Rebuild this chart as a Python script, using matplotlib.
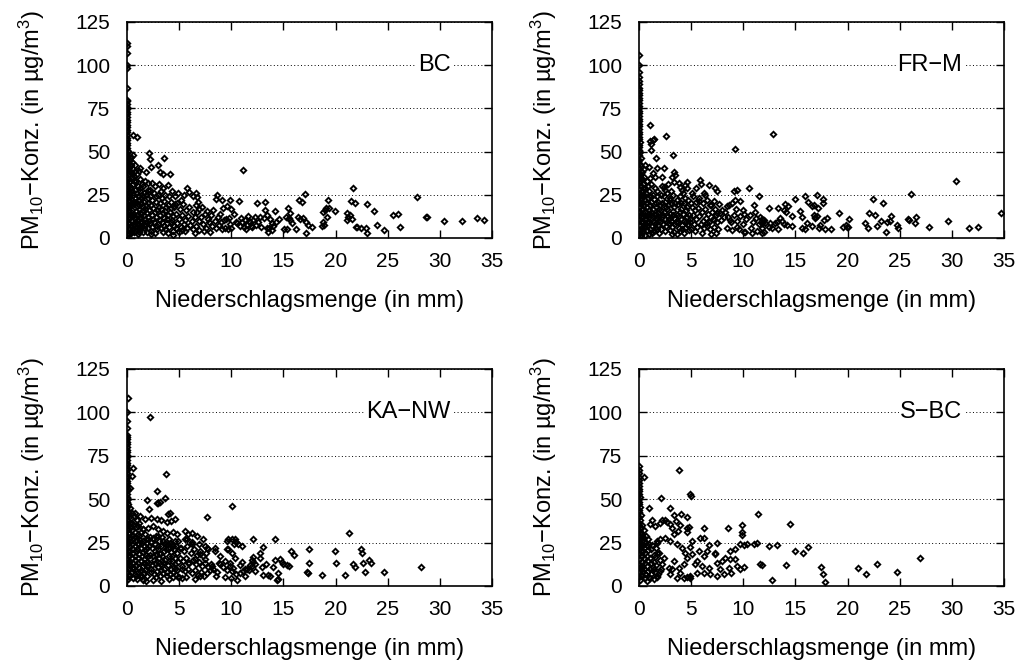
import matplotlib
matplotlib.use('Agg')
import matplotlib.pyplot as plt

plt.rcParams['font.family'] = ['Liberation Sans', 'DejaVu Sans']
plt.rcParams['mathtext.fontset'] = 'custom'
plt.rcParams['mathtext.rm'] = 'Liberation Sans'
plt.rcParams['mathtext.it'] = 'Liberation Sans:italic'
plt.rcParams['mathtext.default'] = 'regular'

#---station names---
stations = ['BC', 'FR\u2212M', 'KA\u2212NW', 'S\u2212BC']

x_ticks = [0, 5, 10, 15, 20, 25, 30, 35]
y_ticks = [0, 25, 50, 75, 100, 125]

#---BC: (Niederschlag mm, PM10 ug/m3)---
bc_pts = [
    (0, 113), (0, 111), (0, 107), (0, 100), (0, 98.5), (0, 87), (0.05, 80), (0, 79), (0, 77.5), (0.05, 76),
    (0, 74.5), (0, 73), (0.05, 71.5), (0, 70), (0, 68.5), (0.05, 67), (0, 65.5), (0, 64), (0.05, 62.5), (0, 61),
    (0, 59.5), (0.05, 58), (0, 56.5), (0, 55), (0.05, 53.5), (0, 52), (0.1, 50.5), (0, 49), (0.05, 47.5), (0.1, 46),
    (0, 44.5), (0.15, 43), (0, 41.5), (0.1, 40), (0.05, 38.5), (0.2, 37), (0, 35.5), (0.1, 34), (0.2, 32.5), (0, 31),
    (0.15, 29.5), (0.05, 28), (0.25, 26.5), (0, 25), (0.1, 23.5), (0.2, 22), (0, 20.5), (0.15, 19), (0.05, 17.5),
    (0.25, 16), (0, 14.5), (0.1, 13), (0.2, 11.5), (0, 10), (0.15, 8.5), (0.05, 7), (0.25, 5.5), (0, 4), (0.1, 3), (0.2, 2.5),
    (0.3, 45), (0.4, 42), (0.5, 44), (0.35, 38), (0.6, 40), (0.8, 39), (0.45, 35), (0.7, 36), (1.0, 37), (1.2, 39),
    (0.3, 33), (0.55, 31), (0.9, 33), (1.3, 34), (0.4, 29), (0.75, 28), (1.1, 30), (1.45, 31), (0.3, 26), (0.6, 25),
    (0.95, 26), (1.25, 27), (0.45, 22), (0.8, 23), (1.15, 22), (1.5, 24), (0.35, 19), (0.65, 19.5), (1.0, 18.5),
    (1.35, 20), (0.5, 16), (0.85, 15.5), (1.2, 16.5), (0.3, 13), (0.6, 12.5), (0.95, 13.5), (1.3, 12), (0.45, 10),
    (0.8, 9.5), (1.1, 10.5), (1.45, 9), (0.35, 7), (0.7, 7.5), (1.0, 6.5), (1.3, 7), (0.5, 4.5), (0.85, 4), (1.2, 5),
    (0.4, 3), (1.5, 3.5), (1.4, 14), (1.5, 18), (0.55, 48), (0.61, 59.6), (1.02, 58.1),
    (0.2, 41), (0.35, 47), (0.25, 39), (0.5, 37), (0.65, 33), (0.25, 30), (0.5, 27), (0.2, 24), (0.7, 21),
    (0.25, 18), (0.55, 14), (0.2, 12), (0.75, 11), (0.25, 8.5), (0.55, 6), (0.2, 5), (0.7, 3.5), (1.05, 2.5),
    (0.9, 21), (1.05, 24), (1.2, 19), (1.3, 29), (1.4, 23), (1.1, 14), (1.25, 9), (1.4, 11.5), (0.95, 8),
    (1.15, 3.5), (1.35, 5.5), (1.55, 16), (1.6, 26), (1.7, 11), (1.75, 7.5), (1.85, 19), (1.9, 14.5), (2.0, 23),
    (2.1, 10), (2.3, 4), (2.2, 28), (2.35, 19), (2.55, 11), (2.65, 15), (2.75, 24), (2.9, 7), (3.05, 18),
    (3.15, 10.5), (3.4, 23), (3.45, 14.5), (3.55, 7), (3.75, 18), (3.85, 11), (3.9, 3), (4.05, 24), (4.2, 17.5),
    (4.35, 10.5), (4.6, 19.5),
    (2.1, 49.4), (2.2, 45.6), (3.58, 46.1), (2.94, 42.3), (3.16, 38.4), (3.48, 37.1), (4.1, 36.7), (2.3, 41.3),
    (1.79, 38.4), (1.25, 40.7), (0.77, 42.1), (3.96, 30.7), (3.48, 28.8), (3.64, 24.9), (2.04, 31.7), (1.98, 27.8),
    (1.57, 29.8), (1.7, 33), (2.4, 32), (2.7, 30), (3.1, 31), (1.8, 25), (2.2, 24), (2.6, 26), (3.0, 25), (3.3, 27),
    (1.6, 21), (2.0, 20), (2.4, 22), (2.8, 21), (3.2, 20), (3.6, 21.5), (3.9, 19), (1.7, 17), (2.1, 16), (2.5, 17.5),
    (2.9, 16), (3.3, 17), (3.7, 15.5), (1.6, 13), (2.0, 12), (2.4, 13.5), (2.8, 12), (3.2, 13), (3.6, 11.5),
    (3.95, 13), (1.8, 9), (2.2, 8.5), (2.6, 9.5), (3.0, 8), (3.4, 9), (3.8, 8.5), (1.65, 6), (2.05, 5.5), (2.45, 6.5),
    (2.85, 5), (3.25, 6), (3.65, 5), (4.0, 6.5), (1.9, 3.5), (2.7, 3), (3.5, 3.5), (2.3, 2.5),
    (4.3, 27), (4.6, 24), (4.9, 26), (5.2, 22), (5.5, 25), (5.8, 29), (6.0, 26.5), (6.3, 24), (6.6, 26), (6.7, 23.5),
    (6.8, 21), (6.65, 19), (6.9, 17), (6.75, 15), (4.2, 21), (4.5, 18), (4.8, 20), (5.1, 17), (5.4, 19.5), (5.7, 16),
    (6.0, 18), (6.3, 15), (4.1, 15), (4.4, 12.5), (4.7, 14), (5.0, 11), (5.3, 13), (5.6, 10.5), (5.9, 12.5),
    (6.2, 10), (6.5, 12), (4.25, 9), (4.55, 7), (4.85, 8.5), (5.15, 6.5), (5.45, 8), (5.75, 5.5), (6.05, 7.5),
    (6.35, 5), (6.65, 7), (6.95, 4.5), (4.4, 4), (5.0, 3.5), (5.6, 4), (4.4, 1.5), (4.7, 5.5), (5.3, 4.8), (6.9, 10),
    (6.5, 3), (7.2, 18), (7.5, 14), (7.8, 11), (8.1, 13.5), (8.4, 10), (8.7, 12), (9.0, 9), (7.3, 8), (7.6, 6),
    (7.9, 9), (8.2, 7), (8.5, 5.5), (8.8, 7.5), (9.1, 5), (9.4, 6), (9.7, 5), (7.4, 4), (8.0, 3.5), (8.53, 22.6),
    (8.6, 24.9), (9.08, 22), (9.9, 22), (9.6, 18.5), (9.2, 17.5), (8.9, 14), (9.5, 11), (9.8, 11.5), (10.0, 17),
    (7.1, 12), (7.7, 15.5), (8.3, 16), (9.3, 10.5), (10.0, 5.5), (9.85, 8), (10.7, 21.3), (10.3, 14), (10.5, 9),
    (10.8, 7), (11.0, 9.5), (11.3, 10.5), (11.5, 7.5), (11.1, 39.2), (11.7, 10), (11.9, 7), (11.4, 5), (10.9, 11.5),
    (11.6, 12.5), (10.6, 8.5), (11.2, 6.5), (11.8, 9),
    (12.43, 20.1), (13.23, 21.0), (17.07, 25.5), (16.5, 22), (16.75, 20.6), (19.24, 22), (19.1, 17.2), (19.4, 17.2),
    (19.0, 16.2), (19.2, 12), (18.8, 15.2), (19.95, 15.6), (21.7, 29.1), (21.5, 21.4), (21.9, 20.4), (23.0, 19.7),
    (21.1, 14.7), (21.4, 13.3), (21.2, 12), (21.1, 10.4), (21.6, 10.8), (21.96, 6.2), (22.1, 6.2), (22.4, 6),
    (22.9, 6), (23.0, 2.9), (23.7, 15.4), (24.0, 7.3), (24.6, 4.6), (25.5, 13.1), (26.0, 14.1), (26.2, 6.6),
    (27.8, 23.9), (28.67, 12.3), (28.8, 12), (30.4, 10), (32.1, 9.6), (33.6, 11.8), (34.2, 10.2), (17.71, 6.4),
    (17.2, 2.7), (16.2, 5.2), (15.1, 5.2), (15.3, 5), (15.4, 17.4), (15.25, 12.3), (15.5, 11.4), (15.6, 10.4),
    (15.8, 8.5), (16.4, 12), (16.6, 10.8), (16.9, 11.4), (17.2, 9.4), (17.4, 7.5), (15.6, 14.3), (14.2, 15.6),
    (14.3, 9.5), (14.6, 10.8), (13.7, 10.8), (13.9, 8.5), (14.0, 6.9), (13.65, 5.6), (13.9, 4.6), (13.2, 16.2),
    (13.4, 13.3), (13.1, 11.4), (12.8, 12.3), (12.6, 9.4), (12.3, 12.3), (12.1, 10.4), (11.95, 6.6), (12.4, 7.5),
    (12.9, 6.6), (18.7, 7), (18.9, 7.5), (18.8, 9.5), (13.4, 5.6), (13.55, 3.7),
]

#---FR-M---
frm_pts = [
    (0, 106), (0, 100), (0, 96), (0.05, 93), (0, 91), (0, 89), (0.05, 87), (0, 85.5), (0, 84), (0.05, 82.5),
    (0, 81), (0, 79.5), (0.05, 78), (0, 76.5), (0, 75), (0.05, 73.5), (0, 72), (0, 70.5), (0.05, 69), (0, 67.5),
    (0, 66), (0.05, 64.5), (0, 63), (0, 61.5), (0.05, 60), (0, 58.5), (0, 57), (0.1, 55.5), (0, 54), (0.05, 52.5),
    (0, 51), (0.1, 49.5), (0, 48), (0.15, 46.5), (0, 45), (0.05, 43.5), (0.1, 42), (0, 40.5), (0.2, 39), (0.05, 37.5),
    (0, 36), (0.15, 34.5), (0.1, 33), (0, 31.5), (0.2, 30), (0.05, 28.5), (0.25, 27), (0, 25.5), (0.1, 24),
    (0.2, 22.5), (0, 21), (0.15, 19.5), (0.05, 18), (0.25, 16.5), (0, 15), (0.1, 13.5), (0.2, 12), (0, 10.5),
    (0.15, 9), (0.05, 7.5), (0.25, 6), (0, 4.5), (0.1, 3), (0.2, 2),
    (0.3, 38), (0.5, 35), (0.8, 33), (0.35, 31), (0.6, 29), (0.9, 30), (1.2, 31), (1.5, 29), (0.4, 27), (0.7, 26),
    (1.0, 27), (1.3, 25), (1.7, 27), (0.3, 24), (0.55, 22), (0.85, 23), (1.15, 21), (1.45, 22.5), (1.8, 21),
    (0.45, 19), (0.75, 18), (1.05, 19), (1.35, 17), (1.65, 18), (1.95, 17), (0.3, 16), (0.6, 15), (0.9, 14),
    (1.2, 15), (1.5, 13.5), (1.85, 14.5), (0.4, 12), (0.7, 11), (1.0, 12), (1.3, 10), (1.6, 11.5), (1.9, 10.5),
    (0.35, 9), (0.65, 8), (0.95, 9), (1.25, 7), (1.55, 8), (1.85, 7.5), (0.5, 5.5), (0.8, 4.5), (1.1, 5), (1.4, 4),
    (1.7, 5), (0.3, 3), (1.0, 2.5), (1.9, 3), (0.6, 42), (0.45, 40),
    (0.25, 34), (0.4, 29), (0.5, 25), (0.25, 21), (0.4, 17), (0.7, 20), (0.95, 16), (1.1, 24), (0.55, 13),
    (0.8, 12.5), (0.25, 10), (0.55, 6.5), (0.75, 9.5), (1.15, 13), (1.4, 9), (1.25, 3), (1.6, 20), (1.75, 24),
    (1.65, 14), (1.8, 12), (0.6, 2), (1.55, 6), (2.0, 19), (2.05, 9), (2.35, 13.5), (2.6, 18), (2.65, 9.5),
    (2.95, 22), (2.9, 11), (3.25, 13), (3.2, 2.5), (3.5, 20.5), (3.55, 9), (3.85, 12.5), (4.05, 20), (4.15, 5),
    (4.4, 23), (4.55, 9), (4.65, 18), (4.9, 11), (5.0, 20),
    (1.02, 65.4), (2.62, 58.7), (1.02, 55.8), (1.34, 56.8), (1.47, 57.1), (1.15, 54.4), (1.15, 50.9), (3.26, 48.1),
    (1.66, 46.1), (9.24, 51.4), (0.93, 41.3), (1.73, 40.7), (2.43, 40.4), (1.34, 37.5), (1.57, 35.5), (1.09, 34.6),
    (2.2, 35.2), (3.32, 38.4), (3.16, 35.5), (3.48, 36.5), (2.36, 29.75), (3.32, 32.6), (3.8, 31.7), (4.6, 32.6),
    (4.44, 30.7), (4.6, 28.8), (3.9, 29.75), (4.12, 27.8), (5.88, 33.6), (6.68, 30.7), (5.5, 28.8), (5.08, 25.9),
    (7.32, 28.8), (7.48, 26.9), (5.72, 21.1), (6.36, 24.9), (6.78, 19.1), (7.22, 21.1),
    (9.08, 26.9), (9.4, 27.8), (9.24, 22.0), (8.92, 20.1), (9.72, 21.1), (10.5, 28.8), (9.97, 16.2), (11.0, 19.1),
    (11.47, 24.0), (11.15, 15.3), (11.63, 12.4), (11.95, 10.5), (11.79, 8.5), (10.83, 2.7), (10.04, 3.7), (9.4, 6.6),
    (8.76, 10.5), (8.12, 12.4), (7.96, 16.2), (8.44, 18.2), (7.48, 14.3), (7.16, 10.5), (6.52, 8.5),
    (2.2, 30), (2.5, 28), (2.8, 31), (3.1, 27), (2.1, 25), (2.4, 24), (2.7, 26), (3.0, 23), (3.3, 25), (3.6, 22),
    (3.9, 24), (4.2, 26), (2.2, 20), (2.5, 21), (2.8, 19), (3.1, 20.5), (3.4, 18), (3.7, 19.5), (4.0, 17), (4.3, 20),
    (4.7, 22), (2.1, 16), (2.4, 15), (2.7, 16.5), (3.0, 14), (3.3, 15.5), (3.6, 13), (3.9, 15), (4.2, 14), (4.5, 16),
    (4.8, 13), (2.2, 12), (2.5, 11), (2.8, 12.5), (3.1, 10), (3.4, 11.5), (3.7, 9.5), (4.0, 11), (4.3, 10), (4.6, 12),
    (4.9, 9.5), (2.3, 8), (2.6, 7), (2.9, 8.5), (3.2, 6.5), (3.5, 8), (3.8, 6), (4.1, 7.5), (4.4, 6), (4.7, 8),
    (2.1, 5), (2.5, 4), (3.0, 4.5), (3.4, 3.5), (3.9, 4), (4.3, 3), (4.8, 4.5), (3.6, 2.5),
    (5.2, 24), (5.5, 21), (5.8, 23), (6.1, 20), (6.5, 22), (6.9, 19), (7.3, 17), (5.1, 18), (5.4, 16), (5.7, 17.5),
    (6.0, 15), (6.3, 16.5), (6.6, 14), (7.0, 15), (7.4, 13), (7.8, 14.5), (5.2, 13), (5.5, 11), (5.8, 12.5),
    (6.1, 10), (6.4, 11.5), (6.7, 9.5), (7.1, 11), (7.5, 9), (7.9, 10.5), (5.3, 8), (5.6, 6.5), (5.9, 8), (6.2, 5.5),
    (6.5, 7), (6.8, 5), (7.2, 6.5), (7.6, 5), (5.4, 4), (6.0, 3), (6.9, 2.5), (7.4, 3), (5.0, 5), (7.7, 19.5),
    (6.2, 26), (5.9, 31),
    (8.2, 15), (8.5, 12), (8.8, 9), (9.1, 13), (9.4, 10), (9.7, 12.5), (10.0, 8), (10.3, 11), (10.6, 13.5),
    (10.9, 9), (11.2, 11.5), (11.5, 8), (8.4, 6), (8.9, 4.5), (9.6, 5), (10.2, 3.5), (10.7, 6), (11.3, 4), (11.8, 3),
    (9.3, 17), (10.1, 14), (8.6, 19),
    (12.85, 60.2), (30.4, 33.2), (26.1, 25.5), (34.7, 14.5), (12.43, 17.2), (13.33, 17.2), (13.97, 19.7),
    (14.29, 18.5), (13.87, 16.2), (14.1, 15.2), (15.0, 22.4), (15.9, 24.1), (16.2, 20.6), (16.6, 18.5),
    (16.8, 18.9), (17.07, 25.1), (17.2, 17.4), (17.64, 22.4), (17.64, 20.1), (15.47, 15.8), (14.67, 12.7),
    (15.63, 12.3), (16.75, 13.3), (16.9, 12.3), (17.07, 12.7), (16.9, 11.4), (17.7, 10.4), (18.0, 11.8),
    (19.2, 14.3), (20.1, 11), (11.79, 11.0), (11.79, 8.5), (11.79, 5.6), (11.95, 3.7), (12.11, 8.9), (12.59, 8.5),
    (12.43, 6.6), (12.75, 6.0), (13.23, 9.5), (13.07, 8.5), (13.33, 5.2), (13.55, 11.4), (13.71, 10.0),
    (13.87, 8.1), (14.19, 7.5), (14.67, 7.1), (15.63, 6.0), (15.95, 5.0), (16.1, 8.5), (16.6, 7.1), (17.3, 6.0),
    (17.39, 7.5), (17.87, 5.0), (18.44, 5.0), (19.6, 6.6), (19.95, 6.6), (19.8, 7.5), (20.04, 6.2), (21.7, 8.9),
    (21.96, 5.6), (22.02, 14.3), (22.44, 22.4), (22.66, 13.3), (22.82, 7.0), (23.2, 10.0), (23.36, 20.4),
    (23.68, 3.7), (23.78, 9.5), (24.1, 10.0), (24.2, 12.9), (24.74, 7.5), (24.83, 5.6), (25.79, 10.8),
    (25.92, 10.4), (26.43, 8.9), (26.56, 12.0), (27.77, 6.2), (29.6, 10.0), (31.6, 5.6), (32.5, 6.4),
]

#---KA-NW---
kanw_pts = [
    (0.1, 108), (0, 100), (0, 95), (0, 91), (0, 87), (0.05, 86), (0, 84.5), (0, 83), (0.05, 81.5), (0, 80),
    (0, 78.5), (0.05, 77), (0, 75.5), (0, 74), (0.05, 72.5), (0, 71), (0, 69.5), (0.05, 68), (0, 66.5), (0, 65),
    (0.05, 63.5), (0, 62), (0, 60.5), (0.05, 59), (0, 57.5), (0.1, 56), (0, 54.5), (0.05, 53), (0, 51.5),
    (0.1, 50), (0, 48.5), (0.15, 47), (0, 45.5), (0.05, 44), (0.1, 42.5), (0, 41), (0.2, 39.5), (0.05, 38),
    (0, 36.5), (0.15, 35), (0.1, 33.5), (0, 32), (0.2, 30.5), (0.05, 29), (0.25, 27.5), (0, 26), (0.1, 24.5),
    (0.2, 23), (0, 21.5), (0.15, 20), (0.05, 18.5), (0.25, 17), (0, 15.5), (0.1, 14), (0.2, 12.5), (0, 11),
    (0.15, 9.5), (0.05, 8), (0.25, 6.5), (0, 5), (0.1, 4),
    (2.2, 97), (0.61, 68.1), (0.51, 63.4), (0.29, 56.6), (3.71, 64.3), (2.85, 54.7), (3.64, 50.9), (3.0, 48),
    (2.85, 47.6), (3.16, 48.4), (1.89, 49.5), (2.11, 44.5), (10.1, 46.1), (7.64, 39.7), (4.12, 42.2), (3.96, 41.3),
    (4.22, 37.4), (3.8, 36.8), (4.6, 38.8),
    (0.77, 42.2), (1.25, 40.3), (1.73, 38.4), (2.36, 39.3), (2.85, 38.4), (3.32, 38.0), (0.45, 36.5), (1.09, 34.5),
    (1.57, 32.6), (2.04, 33.6), (2.52, 34.5), (3.0, 32.6), (3.48, 31.7), (3.8, 30.7), (3.0, 28.8), (2.52, 27.8),
    (2.04, 26.9), (1.57, 25.9), (1.09, 25.0), (5.56, 31.7), (5.88, 29.7), (6.2, 30.7), (6.68, 28.8), (5.56, 26.9),
    (4.92, 25.9), (4.44, 23.0), (3.96, 24.0), (5.08, 22.1), (6.2, 24.0), (7.32, 26.9), (7.48, 23.0), (7.8, 21.1),
    (8.44, 22.1), (7.0, 18.2), (6.52, 15.3), (5.88, 13.4), (5.24, 11.5), (4.6, 9.6), (7.48, 15.3), (8.12, 11.5),
    (8.92, 12.4), (9.4, 14.4), (9.72, 26.9), (10.35, 26.9), (9.56, 21.1), (10.04, 19.2), (10.67, 24.0),
    (10.99, 23.0), (10.35, 16.3), (9.88, 11.5), (10.04, 8.6), (10.83, 7.7), (11.31, 9.6), (11.95, 11.5),
    (12.11, 26.9),
    (0.3, 45), (0.5, 42), (0.4, 39), (0.7, 40), (1.0, 38), (0.3, 36), (0.6, 35), (0.9, 34), (1.2, 36), (1.5, 33),
    (0.45, 32), (0.75, 31), (1.05, 30), (1.35, 31), (1.7, 30), (0.3, 28), (0.6, 27), (0.9, 26.5), (1.2, 27),
    (1.5, 26), (1.8, 27), (0.45, 24), (0.75, 23), (1.05, 24), (1.35, 22), (1.65, 23), (1.95, 22), (0.3, 20),
    (0.6, 19), (0.9, 20), (1.2, 18.5), (1.5, 19.5), (1.8, 18), (0.45, 16), (0.75, 15), (1.05, 16), (1.35, 14.5),
    (1.65, 15.5), (1.95, 14), (0.3, 12), (0.6, 11), (0.9, 12), (1.2, 10.5), (1.5, 11.5), (1.8, 10), (0.45, 8),
    (0.75, 7), (1.05, 8), (1.35, 6.5), (1.65, 7.5), (1.95, 6), (0.6, 4.5), (1.0, 4), (1.4, 5), (1.8, 3),
    (0.25, 42), (0.4, 34), (0.2, 30), (0.5, 29), (0.25, 25), (0.55, 21), (0.2, 18), (0.55, 13.5), (0.2, 14),
    (0.55, 9.5), (0.25, 6), (0.85, 5.5), (0.8, 17.5), (1.0, 21.5), (1.15, 28.5), (1.1, 13), (1.25, 8.5),
    (1.45, 17), (1.45, 24.5), (1.6, 13), (1.7, 9), (1.55, 3.5), (1.75, 20.5), (1.9, 25), (1.95, 11.5), (2.0, 17),
    (2.3, 10), (2.35, 25.5), (2.6, 15), (2.65, 20), (2.75, 5), (2.95, 23), (3.05, 13), (3.2, 18.5), (3.25, 9),
    (3.5, 26), (3.55, 13.5), (3.75, 21), (3.8, 8), (4.05, 14.5), (4.15, 25), (4.35, 17.5), (4.45, 8), (4.65, 12.5),
    (4.75, 23),
    (2.2, 28), (2.5, 27), (2.8, 29), (3.1, 26), (3.4, 28), (3.7, 25), (4.0, 27), (4.3, 24), (4.6, 26), (2.1, 23),
    (2.4, 22), (2.7, 24), (3.0, 21), (3.3, 23), (3.6, 20), (3.9, 22), (4.2, 19.5), (4.5, 21), (4.8, 19), (2.2, 18),
    (2.5, 17), (2.8, 18.5), (3.1, 16), (3.4, 17.5), (3.7, 15), (4.0, 17), (4.3, 14.5), (4.6, 16), (4.9, 14),
    (2.1, 13), (2.4, 12), (2.7, 13.5), (3.0, 11), (3.3, 12.5), (3.6, 10), (3.9, 12), (4.2, 9.5), (4.5, 11), (4.8, 9),
    (2.3, 8), (2.6, 7), (2.9, 8.5), (3.2, 6), (3.5, 7.5), (3.8, 5.5), (4.1, 7), (4.4, 5), (4.7, 6.5), (2.5, 3.5),
    (3.3, 3), (4.0, 4), (4.9, 5), (4.85, 30), (4.4, 31),
    (5.2, 22), (5.5, 20), (5.8, 23), (6.1, 19), (6.4, 21), (6.7, 18), (7.0, 20), (7.3, 17), (7.6, 19), (5.1, 16),
    (5.4, 14.5), (5.7, 16), (6.0, 13), (6.3, 15), (6.6, 12.5), (6.9, 14), (7.2, 11.5), (7.5, 13), (7.8, 11),
    (8.1, 12.5), (5.3, 10), (5.6, 8.5), (5.9, 10), (6.2, 7.5), (6.5, 9), (6.8, 6.5), (7.1, 8), (7.4, 6), (7.7, 7.5),
    (8.0, 9), (8.3, 10), (8.6, 8), (5.0, 5), (5.3, 4.5), (5.7, 5), (6.5, 4), (7.0, 5.5), (8.5, 5.5), (8.8, 13),
    (5.8, 27), (6.2, 25.5), (6.9, 24), (7.7, 22), (8.4, 20), (8.9, 17),
    (9.2, 11), (9.6, 9), (9.9, 13), (10.2, 10.5), (10.5, 7), (10.8, 12), (11.1, 8.5), (11.5, 10), (9.4, 5),
    (10.0, 4.5), (10.6, 3.5), (11.3, 5.5), (9.7, 21), (10.3, 24), (10.1, 27), (9.6, 26), (10.5, 25.5), (11.0, 14),
    (11.7, 9),
    (14.19, 27.0), (21.3, 30.4), (13.07, 22.4), (12.75, 18.9), (12.75, 16.2), (12.05, 16.6), (11.95, 14.7),
    (12.11, 13.7), (12.27, 12.8), (11.79, 11.8), (12.27, 8.9), (12.91, 10.9), (13.33, 12.4), (13.07, 6.6),
    (13.71, 5.5), (13.55, 6.1), (14.03, 10.9), (14.19, 15.1), (14.67, 15.5), (14.51, 7.4), (14.51, 4.3),
    (14.35, 3.6), (14.83, 13.7), (15.0, 12.4), (15.31, 12.0), (15.57, 11.4), (15.69, 20.1), (16.04, 17.6),
    (17.48, 21.2), (17.48, 13.2), (17.29, 8.0), (17.39, 7.4), (18.73, 6.6), (19.94, 20.1), (20.0, 13.2),
    (20.9, 6.6), (21.64, 12.4), (21.86, 10.9), (22.44, 21.4), (22.5, 18.9), (22.6, 13.2), (22.82, 8.2),
    (23.24, 14.7), (23.36, 13.2), (24.67, 7.8), (28.16, 11.2),
]

#---S-BC---
sbc_pts = [
    (0, 69), (0, 67), (0.05, 65), (0, 63), (0, 61), (0.05, 59), (0, 57.5), (0, 56), (0.05, 54.5), (0, 53),
    (0.1, 51.5), (0, 50), (0.05, 48.5), (0, 47), (0.1, 45.5), (0, 44), (0.05, 42.5), (0.15, 41), (0, 39.5),
    (0.1, 38), (0.05, 36.5), (0, 35), (0.2, 33.5), (0.05, 32), (0.1, 30.5), (0, 29), (0.2, 27.5), (0.05, 26),
    (0.15, 24.5), (0, 23), (0.1, 21.5), (0.2, 20), (0, 18.5), (0.15, 17), (0.05, 15.5), (0.25, 14), (0, 12.5),
    (0.1, 11), (0.2, 9.5), (0, 8), (0.15, 6.5), (0.05, 5), (0.1, 3.5),
    (0.3, 35), (0.5, 32), (0.25, 30), (0.4, 28), (0.7, 29), (0.3, 26), (0.55, 25), (0.85, 27), (0.25, 23),
    (0.45, 22), (0.75, 23.5), (1.0, 24), (0.35, 20), (0.6, 19), (0.9, 20.5), (1.2, 21), (0.25, 17), (0.5, 16),
    (0.8, 17.5), (1.1, 16), (1.4, 18), (0.3, 14), (0.55, 13), (0.85, 14.5), (1.15, 13), (1.45, 14), (0.25, 11),
    (0.45, 10), (0.75, 11.5), (1.05, 10), (1.35, 11), (0.35, 8), (0.6, 7), (0.9, 8.5), (1.2, 7), (1.5, 8),
    (0.3, 5.5), (0.6, 4.5), (1.0, 5), (1.4, 4), (0.8, 3), (1.7, 5), (1.75, 6), (1.8, 7), (1.7, 26), (1.6, 22),
    (1.9, 19), (2.0, 15), (1.65, 12), (2.1, 10),
    (3.87, 66.6), (0.51, 62.8), (4.92, 52.8), (4.99, 51.8), (2.11, 50.5), (0.93, 45.1), (3.0, 45.1), (3.32, 40.9),
    (4.03, 41.6), (4.6, 39.7), (2.52, 38.2), (2.68, 37.0), (3.58, 37.4), (3.96, 35.1), (4.6, 33.6), (1.25, 37.8),
    (2.2, 37.8), (1.09, 35.5), (1.57, 34.5), (2.04, 36.5), (3.0, 35.5), (3.16, 33.2), (3.74, 31.7), (3.32, 29.7),
    (4.76, 34.0), (4.6, 31.3), (6.2, 33.2), (8.5, 33.2), (9.88, 35.1), (9.88, 31.3), (9.88, 29.2), (11.38, 41.6),
    (11.0, 24.4), (10.35, 24.4), (10.04, 23.6), (9.65, 24.4), (11.31, 25.0), (11.63, 12.5), (11.79, 12.1),
    (7.48, 24.9), (5.08, 25.9), (4.92, 22.4), (5.88, 27.8), (6.2, 27.4), (2.52, 27.8), (2.04, 26.9), (1.73, 24.9),
    (3.0, 25.9), (3.64, 24.0), (4.12, 22.0), (4.44, 19.2), (5.08, 18.2), (6.2, 17.2), (6.52, 20.1), (7.32, 19.2),
    (5.56, 14.3), (5.4, 12.4), (6.04, 11.5), (6.68, 10.5), (7.48, 13.4), (8.28, 16.3), (8.76, 15.3), (9.24, 15.8),
    (7.8, 9.5), (8.6, 10.5), (8.82, 7.2), (9.4, 11.5), (10.04, 10.9), (9.72, 9.5), (8.12, 6.7), (7.48, 5.7),
    (6.84, 6.7), (6.2, 7.2), (5.56, 7.7), (4.92, 5.7), (4.6, 5.2), (3.96, 7.7), (3.64, 4.8), (3.0, 6.7), (2.85, 10.5),
    (3.32, 14.4), (2.36, 16.3), (2.2, 12.4), (1.73, 19.2), (1.57, 16.7), (1.25, 23.8), (1.41, 9.6), (2.04, 8.6),
    (1.09, 4.8), (3.16, 9.6), (3.8, 10.5), (4.28, 12.4), (4.6, 16.3), (5.72, 20.1), (6.68, 23.8), (7.32, 18.2),
    (7.96, 14.4), (8.76, 20.1), (9.24, 21.1), (4.28, 4.8), (4.92, 4.8),
    (14.51, 35.9), (12.5, 23.0), (13.23, 23.4), (14.93, 20.1), (15.69, 19.0), (16.17, 22.4), (14.13, 12.1),
    (12.75, 3.2), (17.48, 11.1), (17.64, 6.7), (17.8, 2.1), (21.0, 10.2), (21.8, 6.7), (22.8, 12.7), (24.74, 8.2),
    (26.91, 16.3),
]

panel_data = [bc_pts, frm_pts, kanw_pts, sbc_pts]

# axes boxes in figure fractions (left, bottom, width, height)
boxes = [
    [0.124, 0.640, 0.357, 0.327],
    [0.6246, 0.640, 0.357, 0.327],
    [0.124, 0.1135, 0.357, 0.3285],
    [0.6246, 0.1135, 0.357, 0.3285],
]

fig = plt.figure(figsize=(10.23, 6.61), dpi=100)

for name, pts, box in zip(stations, panel_data, boxes):
    ax = fig.add_axes(box)
    xs = [p[0] for p in pts]
    ys = [p[1] for p in pts]
    ax.plot(xs, ys, linestyle='none', marker='D', markersize=2.8,
            markerfacecolor='none', markeredgecolor='black', markeredgewidth=1.35, zorder=3)
    ax.set_xlim(0, 35)
    ax.set_ylim(0, 125)
    ax.set_xticks(x_ticks)
    ax.set_yticks(y_ticks)
    ax.yaxis.grid(True, linestyle=(0, (1, 2.5)), color='black', linewidth=0.7)
    ax.set_axisbelow(True)
    ax.tick_params(direction='in', length=6, width=1, top=True, right=True, labelsize=15)
    ax.tick_params(axis='x', pad=10)
    ax.tick_params(axis='y', pad=12)
    for sp in ax.spines.values():
        sp.set_linewidth(1.2)
    ax.set_xlabel('Niederschlagsmenge (in mm)', fontsize=17, labelpad=14)
    ax.set_ylabel('PM$_{10}$\u2212Konz. (in \u00b5g/m$^3$)', fontsize=17, labelpad=20)
    ax.text(31, 100, name, fontsize=17, ha='right', va='center', zorder=4,
            bbox=dict(facecolor='white', edgecolor='none', pad=1))

fig.savefig('out.png', dpi=100)
